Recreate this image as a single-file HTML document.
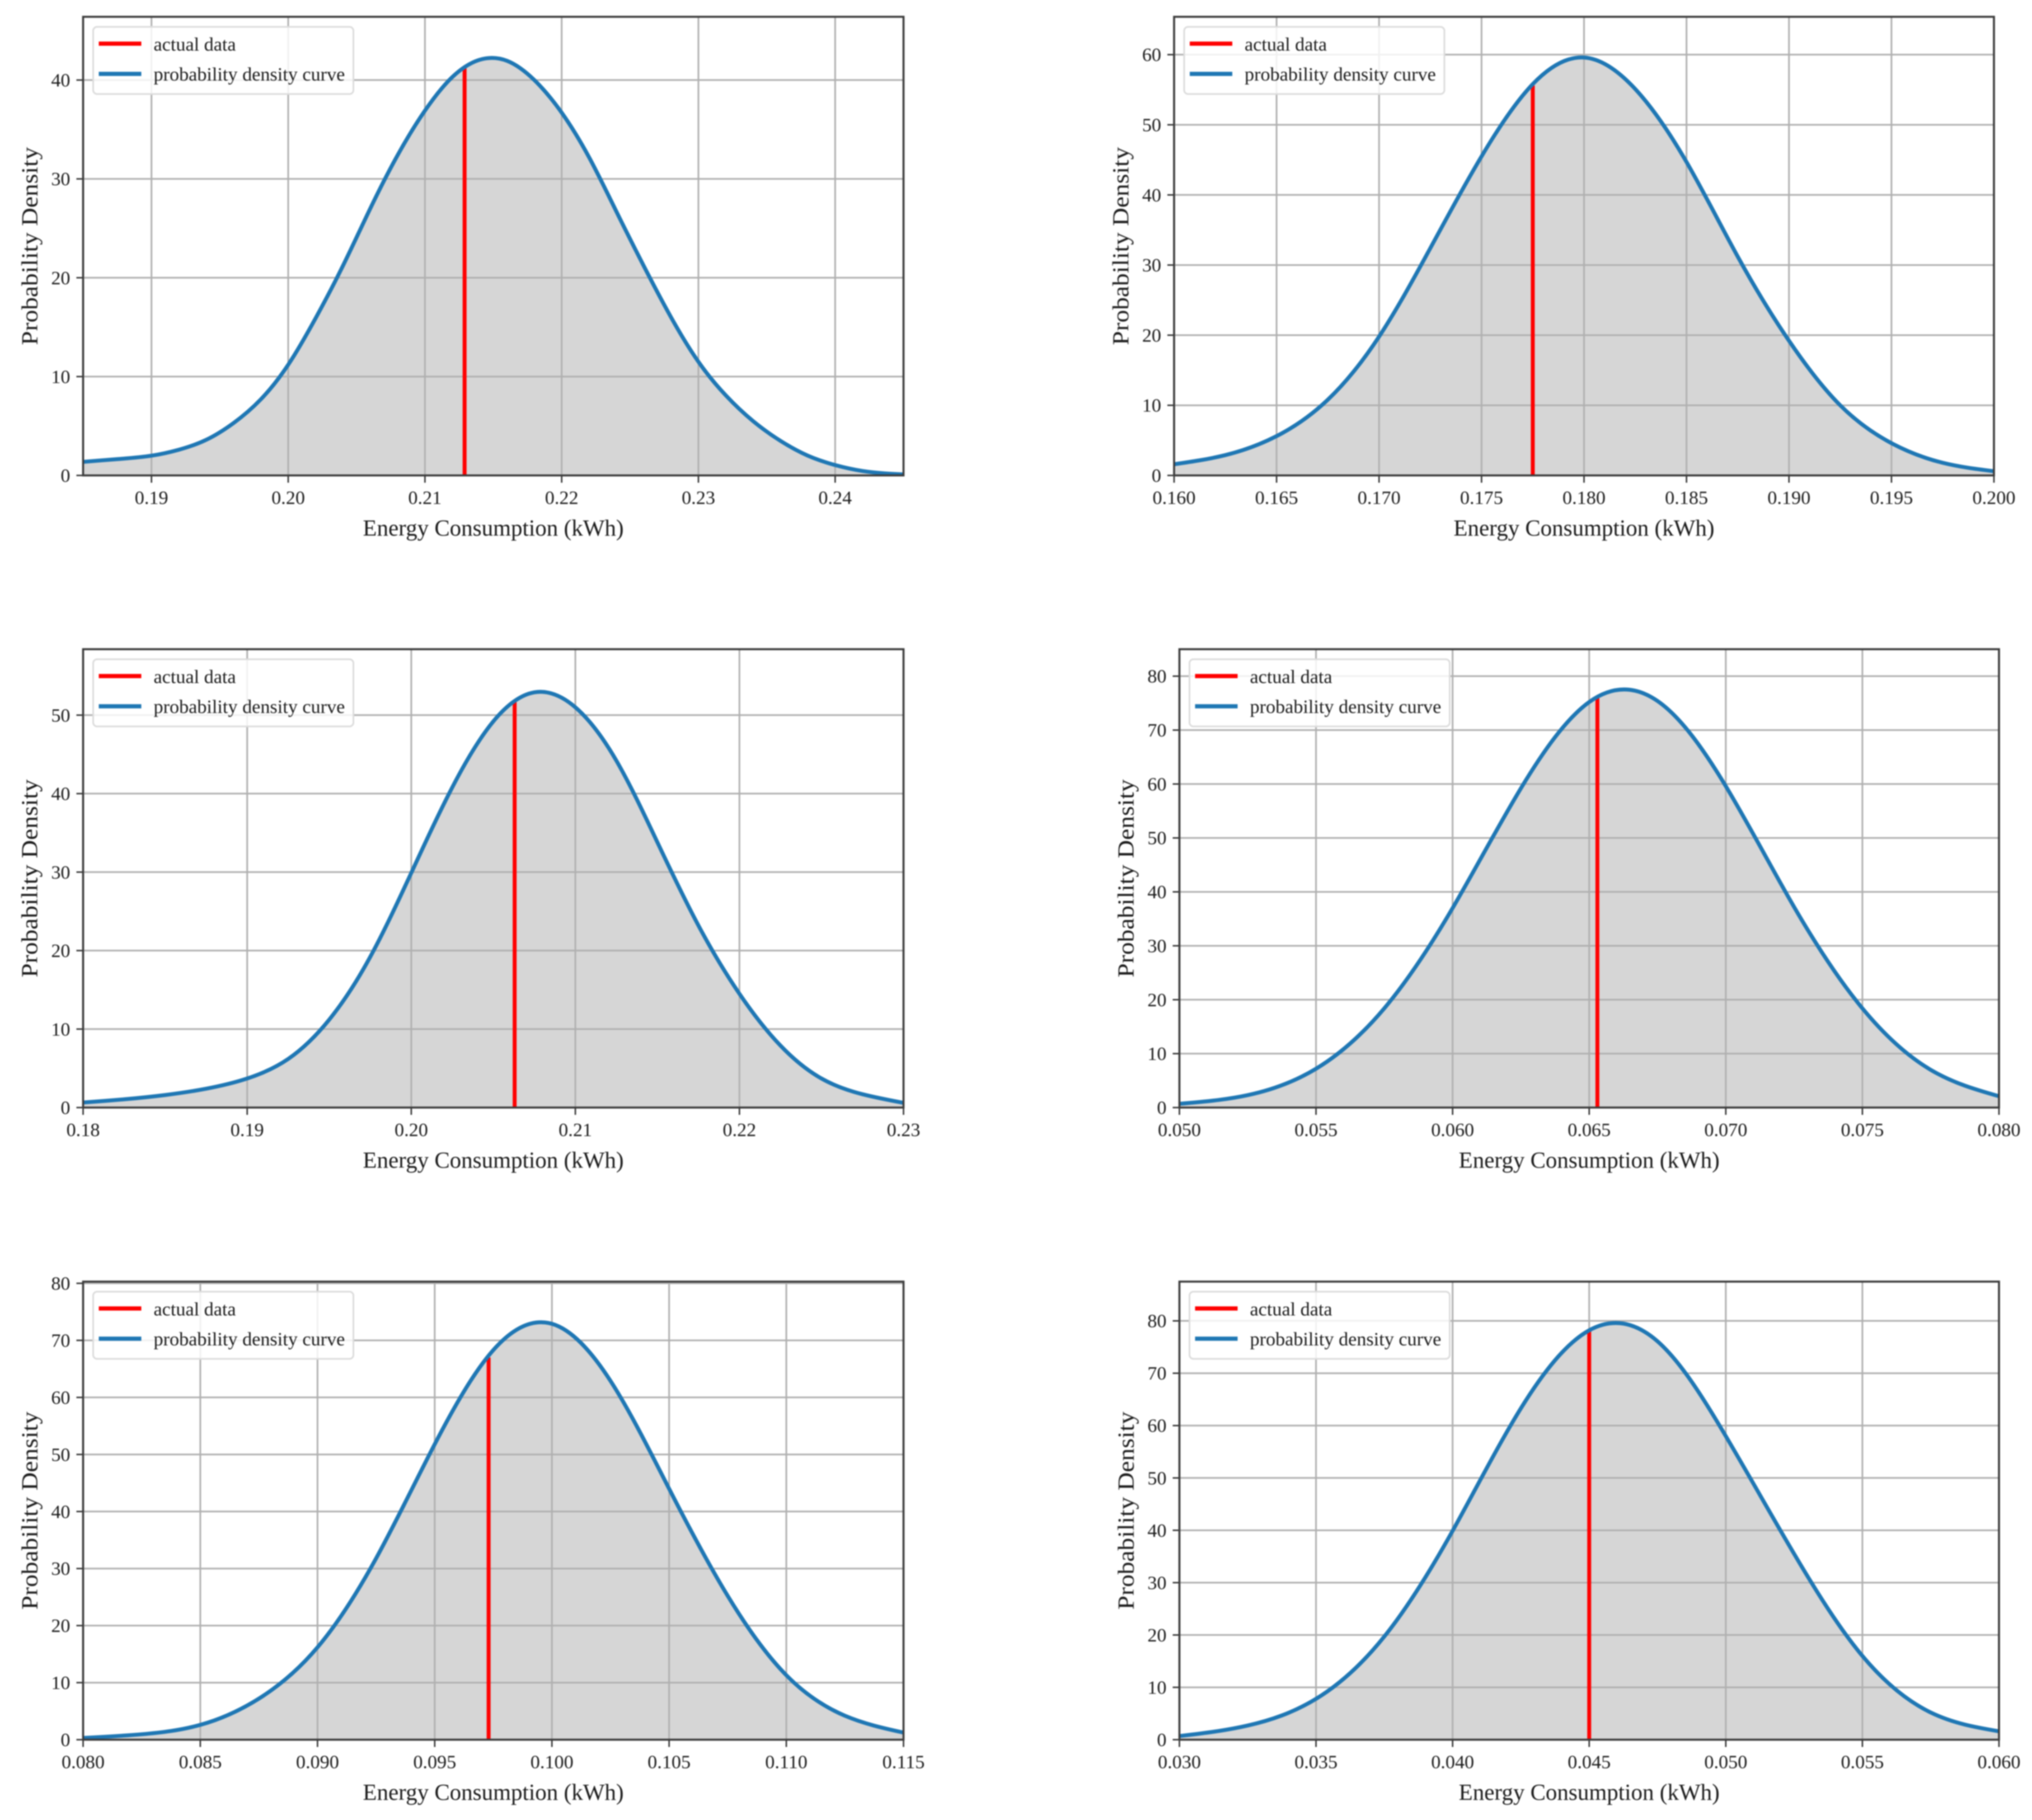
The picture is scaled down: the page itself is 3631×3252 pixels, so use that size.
<!DOCTYPE html>
<html lang="en">
<head>
<meta charset="utf-8">
<title>Probability density charts</title>
<style>
html,body{margin:0;padding:0;background:#fff;}
#figure{display:block;width:3631px;height:3252px;background:#fff;}
#figure text{font-family:"Liberation Serif","Times New Roman",serif;fill:#1c1c1c;}
#figure .soft{filter:blur(1.1px);}
</style>
</head>
<body>
<svg id="figure" xmlns="http://www.w3.org/2000/svg" width="3631" height="3252" viewBox="0 0 3631 3252"></svg>
<script>
// Panel 1 data
const energy1 = [0.185,0.1875,0.19,0.192,0.194,0.196,0.198,0.20,0.202,0.204,0.206,0.208,0.21,0.212,0.214,0.216,0.218,0.22,0.222,0.224,0.226,0.228,0.23,0.232,0.234,0.236,0.238,0.24,0.242,0.245];
const density1 = [1.37,1.65,2.0,2.6,3.6,5.3,7.7,11.2,15.9,21.2,27,32.4,36.9,40.3,42.05,41.95,40,36.7,32.2,26.7,21.2,16,11.5,8.1,5.5,3.5,2.0,1.05,0.45,0.1];
const xTicks1 = [0.19,0.20,0.21,0.22,0.23,0.24];
const xTickLabels1 = ["0.19","0.20","0.21","0.22","0.23","0.24"];
const yTicks1 = [0,10,20,30,40];
const xRange1 = [0.185,0.245];
const yRange1 = [0,46.4];
const actualX1 = 0.2129;
const actualY1 = 41.4;

// Panel 2 data
const energy2 = [0.16,0.1625,0.165,0.1675,0.17,0.1725,0.175,0.1775,0.18,0.1825,0.185,0.1875,0.19,0.1925,0.195,0.1975,0.2];
const density2 = [1.6,2.9,5.6,10.8,19.8,32.4,45.5,55.8,59.6,55.1,44.7,31.2,19.2,10,4.6,1.8,0.6];
const xTicks2 = [0.16,0.165,0.17,0.175,0.18,0.185,0.19,0.195,0.2];
const xTickLabels2 = ["0.160","0.165","0.170","0.175","0.180","0.185","0.190","0.195","0.200"];
const yTicks2 = [0,10,20,30,40,50,60];
const xRange2 = [0.16,0.2];
const yRange2 = [0,65.4];
const actualX2 = 0.1775;
const actualY2 = 55.6;

// Panel 3 data
const energy3 = [0.18,0.1825,0.185,0.1875,0.19,0.1925,0.195,0.1975,0.2,0.2025,0.205,0.2075,0.21,0.2125,0.215,0.2175,0.22,0.2225,0.225,0.2275,0.23];
const density3 = [0.64,1.05,1.6,2.4,3.7,6.2,11.2,19.2,29.9,40.8,49.2,52.9,51,44.2,33.8,23.2,14.5,7.9,3.7,1.7,0.6];
const xTicks3 = [0.18,0.19,0.20,0.21,0.22,0.23];
const xTickLabels3 = ["0.18","0.19","0.20","0.21","0.22","0.23"];
const yTicks3 = [0,10,20,30,40,50];
const xRange3 = [0.18,0.23];
const yRange3 = [0,58.4];
const actualX3 = 0.2063;
const actualY3 = 51.7;

// Panel 4 data
const energy4 = [0.05,0.0525,0.055,0.0575,0.06,0.0625,0.065,0.0675,0.07,0.0725,0.075,0.0775,0.08];
const density4 = [0.7,2.3,7.2,18.4,37,59.2,75.2,75.4,59.6,37.2,18.4,7,2.1];
const xTicks4 = [0.05,0.055,0.06,0.065,0.07,0.075,0.08];
const xTickLabels4 = ["0.050","0.055","0.060","0.065","0.070","0.075","0.080"];
const yTicks4 = [0,10,20,30,40,50,60,70,80];
const xRange4 = [0.05,0.08];
const yRange4 = [0,85];
const actualX4 = 0.0653;
const actualY4 = 76;

// Panel 5 data
const energy5 = [0.08,0.0825,0.085,0.0875,0.09,0.0925,0.095,0.0975,0.1,0.1025,0.105,0.1075,0.11,0.1125,0.115];
const density5 = [0.3,0.95,2.6,7.2,16.2,31.8,51.8,68.3,72.9,62.9,44,25.2,11.3,4.2,1.25];
const xTicks5 = [0.08,0.085,0.09,0.095,0.1,0.105,0.11,0.115];
const xTickLabels5 = ["0.080","0.085","0.090","0.095","0.100","0.105","0.110","0.115"];
const yTicks5 = [0,10,20,30,40,50,60,70,80];
const xRange5 = [0.08,0.115];
const yRange5 = [0,80.3];
const actualX5 = 0.0973;
const actualY5 = 67;

// Panel 6 data
const energy6 = [0.03,0.0325,0.035,0.0375,0.04,0.0425,0.045,0.0475,0.05,0.0525,0.055,0.0575,0.06];
const density6 = [0.7,2.7,7.8,19.7,39.9,63.3,78.2,76.1,58.0,35.5,16,5.2,1.6];
const xTicks6 = [0.03,0.035,0.04,0.045,0.05,0.055,0.06];
const xTickLabels6 = ["0.030","0.035","0.040","0.045","0.050","0.055","0.060"];
const yTicks6 = [0,10,20,30,40,50,60,70,80];
const xRange6 = [0.03,0.06];
const yRange6 = [0,87.5];
const actualX6 = 0.045;
const actualY6 = 78.2;

const panels = [
  {box:[148.5,30,1614.5,849.5], e:energy1, d:density1, xt:xTicks1, xl:xTickLabels1, yt:yTicks1, xr:xRange1, yr:yRange1, ax:actualX1, ay:actualY1},
  {box:[2098,30,3563,849.5], e:energy2, d:density2, xt:xTicks2, xl:xTickLabels2, yt:yTicks2, xr:xRange2, yr:yRange2, ax:actualX2, ay:actualY2},
  {box:[148.5,1160,1614.5,1979], e:energy3, d:density3, xt:xTicks3, xl:xTickLabels3, yt:yTicks3, xr:xRange3, yr:yRange3, ax:actualX3, ay:actualY3},
  {box:[2107.5,1160,3572,1979], e:energy4, d:density4, xt:xTicks4, xl:xTickLabels4, yt:yTicks4, xr:xRange4, yr:yRange4, ax:actualX4, ay:actualY4},
  {box:[148.5,2290,1614.5,3108.5], e:energy5, d:density5, xt:xTicks5, xl:xTickLabels5, yt:yTicks5, xr:xRange5, yr:yRange5, ax:actualX5, ay:actualY5},
  {box:[2107.5,2290,3572,3108.5], e:energy6, d:density6, xt:xTicks6, xl:xTickLabels6, yt:yTicks6, xr:xRange6, yr:yRange6, ax:actualX6, ay:actualY6}
];

const NS = 'http://www.w3.org/2000/svg';
const root = document.getElementById('figure');

function make(parent, tag, attrs, text) {
  const node = document.createElementNS(NS, tag);
  for (const key in attrs) node.setAttribute(key, attrs[key]);
  if (text !== undefined) node.textContent = text;
  parent.appendChild(node);
  return node;
}

// Natural cubic spline through the data points, emitted as Bezier segments.
function smoothPath(px, py) {
  const n = px.length;
  const h = [];
  for (let i = 0; i < n - 1; i++) h.push(px[i + 1] - px[i]);
  const c = new Array(n).fill(0), dd = new Array(n).fill(0), sec = new Array(n).fill(0);
  for (let i = 1; i < n - 1; i++) {
    const a = h[i - 1], b = 2 * (h[i - 1] + h[i]), r = h[i];
    const rhs = 6 * ((py[i + 1] - py[i]) / h[i] - (py[i] - py[i - 1]) / h[i - 1]);
    const w = b - a * c[i - 1];
    c[i] = r / w;
    dd[i] = (rhs - a * dd[i - 1]) / w;
  }
  for (let i = n - 2; i > 0; i--) sec[i] = dd[i] - c[i] * sec[i + 1];
  let d = 'M' + px[0].toFixed(1) + ' ' + py[0].toFixed(1);
  for (let i = 0; i < n - 1; i++) {
    const s = (py[i + 1] - py[i]) / h[i];
    const m0 = s - h[i] * (2 * sec[i] + sec[i + 1]) / 6;
    const m1 = s + h[i] * (sec[i] + 2 * sec[i + 1]) / 6;
    d += ' C' + (px[i] + h[i] / 3).toFixed(1) + ' ' + (py[i] + m0 * h[i] / 3).toFixed(1) +
         ' ' + (px[i + 1] - h[i] / 3).toFixed(1) + ' ' + (py[i + 1] - m1 * h[i] / 3).toFixed(1) +
         ' ' + px[i + 1].toFixed(1) + ' ' + py[i + 1].toFixed(1);
  }
  return d;
}

panels.forEach(function (p, idx) {
  const left = p.box[0], top = p.box[1], right = p.box[2], bottom = p.box[3];
  const sx = function (v) { return left + (v - p.xr[0]) / (p.xr[1] - p.xr[0]) * (right - left); };
  const sy = function (v) { return bottom - (v - p.yr[0]) / (p.yr[1] - p.yr[0]) * (bottom - top); };

  const g = make(root, 'g', {class: 'soft'});
  
  

  const clipId = 'clip' + idx;
  const defs = make(g, 'defs', {});
  const clip = make(defs, 'clipPath', {id: clipId});
  make(clip, 'rect', {x: left, y: top, width: right - left, height: bottom - top});

  const plotBg = make(g, 'rect', {x: left, y: top, width: right - left, height: bottom - top, fill: '#ffffff'});
  
  

  const px = p.e.map(sx);
  const py = p.d.map(sy);
  const curve = smoothPath(px, py);

  const fillArea = make(g, 'path', {
    d: curve + ' L' + px[px.length - 1].toFixed(1) + ' ' + bottom + ' L' + px[0].toFixed(1) + ' ' + bottom + ' Z',
    fill: '#d6d6d6', 'clip-path': 'url(#' + clipId + ')'
  });
  
  

  p.xt.forEach(function (v, i) {
    const x = sx(v);
    const grid = make(g, 'line', {x1: x, x2: x, y1: top, y2: bottom, stroke: '#b0b0b0', 'stroke-width': 3});
    
    
    const tick = make(g, 'line', {x1: x, x2: x, y1: bottom, y2: bottom + 13, stroke: '#333', 'stroke-width': 2.6});
    
    
    const label = make(g, 'text', {x: x, y: bottom + 51, 'text-anchor': 'middle', 'font-size': 34.2}, p.xl[i]);
    
    
  });

  p.yt.forEach(function (v) {
    const y = sy(v);
    const grid = make(g, 'line', {x1: left, x2: right, y1: y, y2: y, stroke: '#b0b0b0', 'stroke-width': 3});
    
    
    const tick = make(g, 'line', {x1: left - 12, x2: left, y1: y, y2: y, stroke: '#333', 'stroke-width': 2.6});
    
    
    const label = make(g, 'text', {x: left - 23, y: y + 11.5, 'text-anchor': 'end', 'font-size': 34.2}, String(v));
    
    
  });

  const redLine = make(g, 'line', {x1: sx(p.ax), x2: sx(p.ax), y1: bottom, y2: sy(p.ay), stroke: '#ff0000', 'stroke-width': 7});
  
  

  const blue = make(g, 'path', {d: curve, fill: 'none', stroke: '#1f77b4', 'stroke-width': 7, 'clip-path': 'url(#' + clipId + ')'});
  
  

  const frame = make(g, 'rect', {x: left, y: top, width: right - left, height: bottom - top, fill: 'none', stroke: '#3c3c3c', 'stroke-width': 3.6});
  
  

  const legend = make(g, 'g', {});
  
  
  const lx = left + 18, ly = top + 18;
  const legendBox = make(legend, 'rect', {x: lx, y: ly, width: 465, height: 120, rx: 7, ry: 7, fill: '#ffffff', 'fill-opacity': 0.82, stroke: '#dcdcdc', 'stroke-width': 3});
  
  
  const redKey = make(legend, 'line', {x1: lx + 10, x2: lx + 86, y1: ly + 30, y2: ly + 30, stroke: '#ff0000', 'stroke-width': 7.5});
  
  
  const redText = make(legend, 'text', {x: lx + 108, y: ly + 42.5, 'font-size': 34.2}, 'actual data');
  
  
  const blueKey = make(legend, 'line', {x1: lx + 10, x2: lx + 86, y1: ly + 84, y2: ly + 84, stroke: '#1f77b4', 'stroke-width': 7.5});
  
  
  const blueText = make(legend, 'text', {x: lx + 108, y: ly + 96, 'font-size': 34.2}, 'probability density curve');
  
  

  const xTitle = make(g, 'text', {x: (left + right) / 2, y: bottom + 107.5, 'text-anchor': 'middle', 'font-size': 41}, 'Energy Consumption (kWh)');
  
  

  const yx = left - 82, yy = (top + bottom) / 2;
  const yTitle = make(g, 'text', {x: yx, y: yy, 'text-anchor': 'middle', 'font-size': 41, textLength: 354, lengthAdjust: 'spacingAndGlyphs', transform: 'rotate(-90 ' + yx + ' ' + yy + ')'}, 'Probability Density');
  
  
});
</script>
</body>
</html>
